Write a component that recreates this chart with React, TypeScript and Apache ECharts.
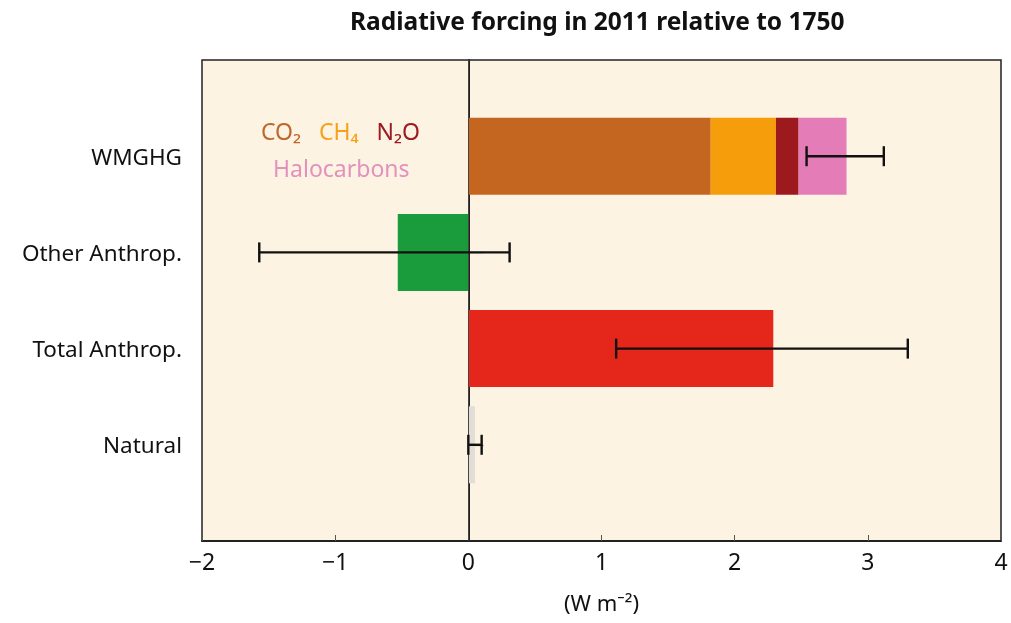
import React, { useEffect, useRef } from "react";
import * as echarts from "echarts";

const categories = ["WMGHG", "Other Anthrop.", "Total Anthrop.", "Natural"];
const wmghgNames = ["CO₂", "CH₄", "N₂O", "Halocarbons"];
const wmghgValues = [1.82, 0.49, 0.17, 0.36];
const wmghgColors = ["#c4661f", "#f59d0a", "#9c1a1d", "#e47cb8"];
const otherAnthrop = -0.53;
const totalAnthrop = 2.29;
const natural = 0.05;
const errLow = [2.54, -1.57, 1.11, 0.0];
const errHigh = [3.12, 0.31, 3.3, 0.1];
const xTicks = [-2, -1, 0, 1, 2, 3, 4];

const FONT = "Noto Sans";

export default function App() {
  const ref = useRef<HTMLDivElement>(null);
  useEffect(() => {
    if (!ref.current) return;
    const chart = echarts.init(ref.current, null, { renderer: "svg" });
    const yCats = ["", ...categories, ""];
    const n = yCats.length;
    const only = (idx: number, v: number) =>
      yCats.map((_, i) => (i === idx ? v : null));

    const series: any[] = [];
    wmghgValues.forEach((v, k) => {
      series.push({
        name: wmghgNames[k],
        type: "bar",
        stack: "s",
        barWidth: 77,
        data: only(1, v),
        itemStyle: { color: wmghgColors[k] },
      });
    });
    series.push({
      name: "Other",
      type: "bar",
      stack: "s",
      barWidth: 77,
      data: only(2, otherAnthrop),
      itemStyle: { color: "#1a9b3c" },
    });
    series.push({
      name: "Total",
      type: "bar",
      stack: "s",
      barWidth: 77,
      data: only(3, totalAnthrop),
      itemStyle: { color: "#e5261a" },
    });
    series.push({
      name: "Natural",
      type: "bar",
      stack: "s",
      barWidth: 77,
      data: only(4, natural),
      itemStyle: { color: "#e2ddd6" },
      markLine: {
        silent: true,
        symbol: "none",
        label: { show: false },
        lineStyle: { color: "#444", width: 1, type: "solid" },
        data: [{ xAxis: 0 }],
      },
    });
    series.push({
      name: "err",
      type: "custom",
      z: 10,
      data: categories.map((_, i) => [i + 1, errLow[i], errHigh[i]]),
      renderItem: (params: any, api: any) => {
        const c = api.value(0);
        const p1 = api.coord([api.value(1), c]);
        const p2 = api.coord([api.value(2), c]);
        const h = 10;
        const style = { stroke: "#111", lineWidth: 2.4 };
        return {
          type: "group",
          children: [
            { type: "line", shape: { x1: p1[0], y1: p1[1], x2: p2[0], y2: p2[1] }, style },
            { type: "line", shape: { x1: p1[0], y1: p1[1] - h, x2: p1[0], y2: p1[1] + h }, style },
            { type: "line", shape: { x1: p2[0], y1: p2[1] - h, x2: p2[0], y2: p2[1] + h }, style },
          ],
        };
      },
      encode: { x: [1, 2], y: 0 },
    });

    chart.setOption({
      animation: false,
      textStyle: { fontFamily: FONT },
      grid: {
        left: 202,
        right: 10,
        top: 60,
        bottom: 82,
        show: true,
        backgroundColor: "#fdf3e3",
        borderColor: "#222",
        borderWidth: 1.5,
      },
      xAxis: {
        type: "value",
        min: -2,
        max: 4,
        interval: 1,
        splitLine: { show: false },
        axisLine: { show: true, lineStyle: { color: "#222", width: 2 } },
        axisTick: { show: true, inside: true, length: 6, lineStyle: { color: "#555" } },
        axisLabel: {
          color: "#111",
          fontSize: 23,
          fontFamily: FONT,
          margin: 8,
          formatter: (v: number) => (xTicks.includes(v) ? String(v).replace("-", "\u2212") : ""),
        },
        name: "(W m⁻²)",
        nameLocation: "middle",
        nameGap: 50,
        nameTextStyle: { color: "#111", fontSize: 22, fontFamily: FONT },
      },
      yAxis: {
        type: "category",
        data: yCats,
        inverse: true,
        boundaryGap: false,
        axisLine: { show: true, lineStyle: { color: "#222", width: 2 } },
        axisTick: {
          show: true,
          inside: true,
          length: 15,
          interval: (i: number) => i > 0 && i < n - 1,
          lineStyle: { color: "#333", width: 1.2 },
        },
        axisLabel: {
          color: "#111",
          fontSize: 22.5,
          fontFamily: FONT,
          margin: 20,
          interval: 0,
        },
        splitLine: { show: false },
      },
      graphic: [
        {
          type: "text",
          left: 350,
          top: 8,
          style: {
            text: "Radiative forcing in 2011 relative to 1750",
            font: `bold 24.5px "${FONT}"`,
            fill: "#111",
          },
          z: 100,
        },
        {
          type: "text",
          x: 261,
          y: 119,
          style: {
            text: "{a|CO₂}   {b|CH₄}   {c|N₂O}",
            font: `23px "${FONT}"`,
            rich: {
              a: { fill: "#c0662a", fontSize: 23, fontFamily: FONT },
              b: { fill: "#f7a11a", fontSize: 23, fontFamily: FONT },
              c: { fill: "#9a1b20", fontSize: 23, fontFamily: FONT },
            },
          },
          z: 100,
        },
        {
          type: "text",
          x: 273,
          y: 156,
          style: {
            text: "Halocarbons",
            font: `23px "${FONT}"`,
            fill: "#e391bd",
          },
          z: 100,
        },
      ],
      series,
    });
    return () => chart.dispose();
  }, []);
  return (
    <div
      ref={ref}
      style={{ position: "fixed", left: 0, top: 0, width: 1011, height: 623 }}
    />
  );
}
